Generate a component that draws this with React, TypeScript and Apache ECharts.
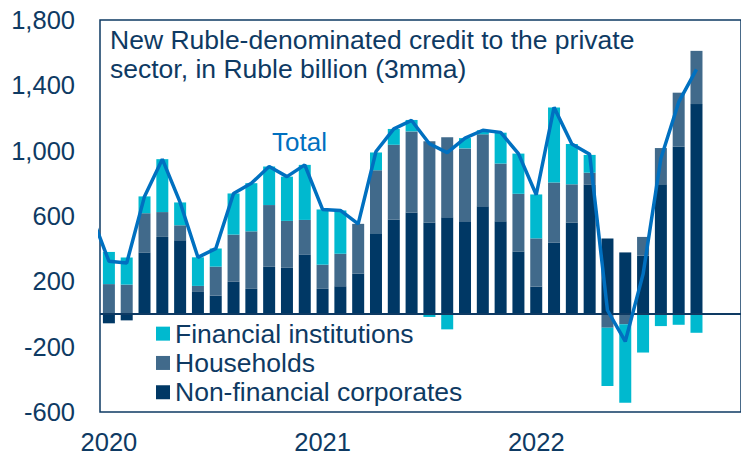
import React, { useEffect, useRef } from "react";
import * as echarts from "echarts";

// Months Jan 2020 ... Dec 2022 (data to Oct 2022)
const months = [
  "Jan 2020", "Feb 2020", "Mar 2020", "Apr 2020", "May 2020", "Jun 2020", "Jul 2020", "Aug 2020", "Sep 2020", "Oct 2020", "Nov 2020", "Dec 2020",
  "Jan 2021", "Feb 2021", "Mar 2021", "Apr 2021", "May 2021", "Jun 2021", "Jul 2021", "Aug 2021", "Sep 2021", "Oct 2021", "Nov 2021", "Dec 2021",
  "Jan 2022", "Feb 2022", "Mar 2022", "Apr 2022", "May 2022", "Jun 2022", "Jul 2022", "Aug 2022", "Sep 2022", "Oct 2022", "Nov 2022", "Dec 2022",
];
const nonFinancial = [-57, -39, 377, 472, 451, 135, 113, 197, 154, 289, 285, 365, 154, 170, 248, 495, 578, 622, 560, 593, 568, 660, 568, 383, 168, 436, 560, 791, 462, 377, 357, 794, 1024, 1285];
const households = [183, 180, 240, 152, 92, 37, 177, 289, 352, 378, 285, 211, 148, 199, 304, 385, 458, 496, 497, 489, 446, 440, 353, 353, 295, 369, 234, 74, -84, -63, 115, 222, 331, 326];
const financial = [197, 166, 103, 324, 140, 175, 111, 252, 295, 236, 271, 337, 338, 265, 0, 109, 97, 70, -18, -94, 63, 25, 189, 246, 269, 459, 247, 109, -357, -480, -236, -74, -66, -115];
// Total line, first point = Dec 2019 (index -1), then Jan 2020 ... Oct 2022
const totalStartIndex = -1;
const total = [610, 323, 312, 720, 948, 683, 347, 400, 738, 800, 903, 841, 913, 640, 634, 552, 995, 1133, 1185, 1042, 988, 1077, 1125, 1112, 982, 730, 1265, 1041, 978, 23, -168, 244, 952, 1297, 1498];
const yTicks = [-600, -200, 200, 600, 1000, 1400, 1800];

const NAVY = "#0E3A63";
const C_FI = "#00B9CF";
const C_HH = "#416A8B";
const C_NFC = "#003865";
const C_LINE = "#0070C0";
const FONT = "'Liberation Sans', Arial, sans-serif";

export default function App() {
  const ref = useRef<HTMLDivElement>(null);
  useEffect(() => {
    document.body.style.margin = "0";
    const chart = echarts.init(ref.current!, null, { renderer: "svg" });
    chart.setOption({
      animation: false,
      backgroundColor: "#ffffff",
      textStyle: { fontFamily: FONT },
      title: [
        {
          text: "New Ruble-denominated credit to the private\nsector, in Ruble billion (3mma)",
          left: 110,
          top: 25,
          padding: 0,
          textStyle: { fontSize: 26.5, lineHeight: 29, fontWeight: "normal", color: NAVY, fontFamily: FONT },
        },
        {
          text: "Total",
          left: 272,
          top: 129,
          padding: 0,
          textStyle: { fontSize: 26, lineHeight: 26, fontWeight: "normal", color: C_LINE, fontFamily: FONT },
        },
      ],
      legend: {
        orient: "vertical",
        left: 156,
        top: 319,
        padding: 0,
        itemGap: 0,
        itemWidth: 14,
        itemHeight: 14,
        icon: "rect",
        data: ["Financial institutions", "Households", "Non-financial corporates"],
        textStyle: { fontSize: 26.5, lineHeight: 29.3, color: NAVY, fontFamily: FONT },
      },
      grid: {
        left: 100,
        top: 20,
        right: -2,
        bottom: 45,
        show: true,
        borderColor: NAVY,
        borderWidth: 1.5,
        containLabel: false,
      },
      xAxis: [
        {
          type: "category",
          data: months,
          boundaryGap: true,
          axisLine: { show: false },
          axisTick: { show: false },
          splitLine: { show: false },
          axisLabel: {
            interval: 0,
            formatter: (v: string) => (v.startsWith("Jan") ? v.slice(4) : ""),
            fontSize: 25.5,
            color: NAVY,
            margin: 17,
            fontFamily: FONT,
          },
        },
        {
          type: "value",
          show: false,
          min: -0.5,
          max: months.length - 0.5,
          splitLine: { show: false },
        },
      ],
      yAxis: {
        type: "value",
        min: -600,
        max: 1800,
        splitLine: { show: false },
        axisLine: { show: false },
        axisTick: { show: false },
        axisLabel: {
          customValues: yTicks,
          formatter: (v: number) => v.toLocaleString("en-US"),
          fontSize: 25.5,
          color: NAVY,
          margin: 25,
          fontFamily: FONT,
        },
      },
      series: [
        {
          name: "Non-financial corporates",
          type: "bar",
          stack: "credit",
          barWidth: 12,
          itemStyle: { color: C_NFC },
          data: nonFinancial,
        },
        {
          name: "Households",
          type: "bar",
          stack: "credit",
          barWidth: 12,
          itemStyle: { color: C_HH },
          data: households,
        },
        {
          name: "Financial institutions",
          type: "bar",
          stack: "credit",
          barWidth: 12,
          itemStyle: { color: C_FI },
          data: financial,
        },
        {
          name: "Total",
          type: "line",
          xAxisIndex: 1,
          z: 5,
          symbol: "none",
          clip: true,
          lineStyle: { color: C_LINE, width: 3.5 },
          data: total.map((v, i) => [i + totalStartIndex, v]),
          markLine: {
            silent: true,
            symbol: "none",
            label: { show: false },
            lineStyle: { color: NAVY, width: 1.8, type: "solid" },
            data: [{ yAxis: 0 }],
          },
        },
      ],
    });
    return () => chart.dispose();
  }, []);
  return <div ref={ref} style={{ width: 741, height: 457 }} />;
}
